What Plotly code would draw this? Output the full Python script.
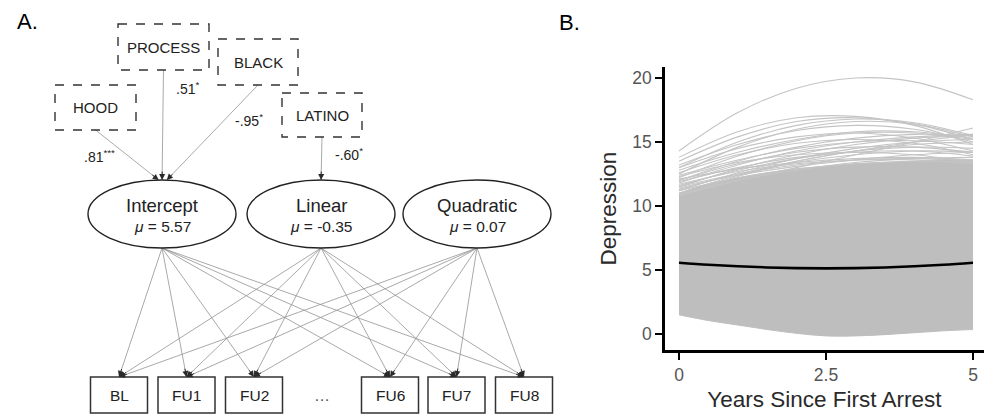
import math
import plotly.graph_objects as go

# ---------------- Panel A data (path diagram) ----------------
covariates = ["PROCESS", "BLACK", "HOOD", "LATINO"]
covariate_targets = ["Intercept", "Intercept", "Intercept", "Linear"]
coefficients = [".51", "-.95", ".81", "-.60"]
significance = ["*", "*", "***", "*"]
growth_factors = ["Intercept", "Linear", "Quadratic"]
factor_means = ["5.57", "-0.35", "0.07"]
waves = ["BL", "FU1", "FU2", "FU6", "FU7", "FU8"]
ellipsis_label = "…"

# ---------------- Panel B data (trajectories) ----------------
years = [0, 0.5, 1, 1.5, 2, 2.5, 3, 3.5, 4, 4.5, 5]
mean_depression = [5.57, 5.41, 5.29, 5.20, 5.15, 5.13, 5.15, 5.20, 5.29, 5.41, 5.57]
band_lower = [1.5, 1.05, 0.7, 0.35, 0.05, -0.15, -0.15, -0.05, 0.1, 0.25, 0.35]
band_upper = [11.0, 11.7, 12.2, 12.6, 12.9, 13.1, 13.3, 13.4, 13.5, 13.6, 13.6]
curve_years = [0, 1, 2, 3, 4, 5]
upper_curves = [
    [14.3, 17.3, 19.2, 20.0, 19.7, 18.3],
    [13.8, 15.8, 16.9, 17.0, 16.3, 14.8],
    [13.5, 15.4, 16.6, 16.9, 16.4, 15.2],
    [13.0, 15.0, 16.3, 16.8, 16.5, 15.5],
    [12.5, 14.6, 16.0, 16.6, 16.4, 15.4],
    [13.2, 14.8, 15.9, 16.3, 16.0, 15.0],
    [12.8, 14.2, 15.2, 15.8, 15.8, 15.3],
    [12.2, 13.9, 15.1, 15.7, 15.7, 15.2],
    [12.0, 13.5, 14.6, 15.3, 15.6, 15.5],
    [11.8, 13.2, 14.3, 15.0, 15.4, 15.6],
    [11.5, 12.9, 14.0, 14.8, 15.3, 15.5],
    [12.4, 13.6, 14.5, 15.0, 15.1, 14.8],
    [11.2, 12.6, 13.7, 14.5, 15.0, 15.2],
    [12.0, 13.3, 14.2, 14.6, 14.6, 14.2],
    [11.6, 12.8, 13.7, 14.3, 14.6, 14.5],
    [10.8, 12.3, 13.5, 14.3, 14.8, 15.0],
    [13.0, 14.5, 15.4, 15.7, 15.3, 14.3],
    [11.0, 12.4, 13.4, 14.0, 14.3, 14.2],
    [12.6, 14.0, 14.9, 15.2, 14.9, 14.0],
    [10.8, 12.0, 13.0, 14.0, 15.0, 16.1],
    [11.3, 12.5, 13.5, 14.3, 15.0, 15.6],
    [11.9, 13.0, 13.8, 14.2, 14.3, 13.9],
    [12.3, 13.4, 14.0, 14.2, 14.0, 13.4],
    [11.2, 12.2, 12.9, 13.3, 13.5, 13.4],
    [11.5, 12.5, 13.2, 13.6, 13.7, 13.5],
    [10.9, 12.0, 12.8, 13.4, 13.7, 13.8],
    [11.7, 12.7, 13.3, 13.6, 13.6, 13.3],
    [12.1, 12.9, 13.4, 13.7, 13.8, 13.6],
    [11.4, 12.4, 13.1, 13.6, 14.0, 14.2],
]
x_ticks = [0, 2.5, 5]
x_tick_labels = ["0", "2.5", "5"]
y_ticks = [0, 5, 10, 15, 20]
y_tick_labels = ["0", "5", "10", "15", "20"]

# ---------------- Diagram layout (pixel units of panel A) ----------------
cov_box = {
    "PROCESS": (118, 24, 209, 70),
    "BLACK": (218, 39, 298, 85),
    "HOOD": (55, 85, 136, 130),
    "LATINO": (282, 93, 362, 137),
}
coef_pos = {
    "PROCESS": (174, 88),
    "BLACK": (233, 120),
    "HOOD": (82, 156),
    "LATINO": (333, 154),
}
factor_cx = {"Intercept": 162, "Linear": 321, "Quadratic": 477}
factor_cy, factor_rx, factor_ry = 214, 74, 34
wave_cx = {"BL": 119, "FU1": 186.5, "FU2": 254, "FU6": 390, "FU7": 456.5, "FU8": 524}
wave_w, wave_top, wave_bot = 57, 377, 413
dots_x = 322

FONT = "Liberation Sans, Arial, Helvetica, sans-serif"
TXT = "#222222"

fig = go.Figure()
shapes = []
annotations = []

# ----- Panel B traces -----
fig.add_trace(go.Scatter(x=years, y=band_lower, mode="lines",
                         line=dict(color="#bebebe", width=1, shape="spline"),
                         hoverinfo="skip", showlegend=False))
fig.add_trace(go.Scatter(x=years, y=band_upper, mode="lines", fill="tonexty",
                         fillcolor="#bebebe",
                         line=dict(color="#bebebe", width=1, shape="spline"),
                         hoverinfo="skip", showlegend=False))
for c in upper_curves:
    fig.add_trace(go.Scatter(x=curve_years, y=c, mode="lines",
                             line=dict(color="#c4c4c4", width=1.1, shape="spline"),
                             hoverinfo="skip", showlegend=False))
fig.add_trace(go.Scatter(x=years, y=mean_depression, mode="lines",
                         line=dict(color="black", width=2.6, shape="spline"),
                         hoverinfo="skip", showlegend=False))

# ----- Panel A: edges -----
edge_x, edge_y = [], []
heads = []


def add_edge(sx, sy, tx, ty):
    edge_x.extend([sx, tx, None])
    edge_y.extend([sy, ty, None])
    d = math.hypot(tx - sx, ty - sy)
    ux, uy = (tx - sx) / d, (ty - sy) / d
    heads.append((tx, ty, tx - ux * 10, ty - uy * 10))


for cov, tgt in zip(covariates, covariate_targets):
    x0, y0, x1, y1 = cov_box[cov]
    add_edge((x0 + x1) / 2, y1, factor_cx[tgt] + ((x0 + x1) / 2 - factor_cx[tgt]) * 0.05,
             factor_cy - factor_ry)

for f in growth_factors:
    for w in waves:
        add_edge(factor_cx[f], factor_cy + factor_ry, wave_cx[w], wave_top)

fig.add_trace(go.Scatter(x=edge_x, y=edge_y, mode="lines", xaxis="x2", yaxis="y2",
                         line=dict(color="#939393", width=0.8),
                         hoverinfo="skip", showlegend=False))

for tx, ty, ax, ay in heads:
    annotations.append(dict(x=tx, y=ty, ax=ax, ay=ay, xref="x2", yref="y2",
                            axref="x2", ayref="y2", text="", showarrow=True,
                            arrowhead=2, arrowsize=1.2, arrowwidth=1,
                            arrowcolor="#2a2a2a", standoff=0))

# covariate boxes (dashed)
for cov in covariates:
    x0, y0, x1, y1 = cov_box[cov]
    shapes.append(dict(type="rect", xref="x2", yref="y2", x0=x0, y0=y0, x1=x1, y1=y1,
                       line=dict(color="#333333", width=1.4, dash="dash")))
    annotations.append(dict(x=(x0 + x1) / 2, y=(y0 + y1) / 2, xref="x2", yref="y2",
                            text=cov, showarrow=False,
                            font=dict(family=FONT, size=15, color=TXT)))

for cov, coef, sig in zip(covariates, coefficients, significance):
    cx, cy = coef_pos[cov]
    annotations.append(dict(x=cx, y=cy, xref="x2", yref="y2", xanchor="left",
                            text=f"{coef}<sup>{sig}</sup>", showarrow=False,
                            font=dict(family=FONT, size=14, color=TXT)))

# growth factor ellipses
for f, m in zip(growth_factors, factor_means):
    cx = factor_cx[f]
    shapes.append(dict(type="circle", xref="x2", yref="y2",
                       x0=cx - factor_rx, x1=cx + factor_rx,
                       y0=factor_cy - factor_ry, y1=factor_cy + factor_ry,
                       fillcolor="white", line=dict(color="#222222", width=1.4)))
    annotations.append(dict(x=cx, y=factor_cy - 9, xref="x2", yref="y2", text=f,
                            showarrow=False, font=dict(family=FONT, size=18.5, color=TXT)))
    annotations.append(dict(x=cx, y=factor_cy + 12, xref="x2", yref="y2",
                            text=f"<i>μ</i> = {m}", showarrow=False,
                            font=dict(family=FONT, size=15.5, color=TXT)))

# wave boxes
for w in waves:
    cx = wave_cx[w]
    shapes.append(dict(type="rect", xref="x2", yref="y2",
                       x0=cx - wave_w / 2, x1=cx + wave_w / 2, y0=wave_top, y1=wave_bot,
                       fillcolor="white", line=dict(color="#333333", width=1.5)))
    annotations.append(dict(x=cx, y=(wave_top + wave_bot) / 2, xref="x2", yref="y2",
                            text=w, showarrow=False,
                            font=dict(family=FONT, size=15.5, color=TXT)))
annotations.append(dict(x=dots_x, y=(wave_top + wave_bot) / 2, xref="x2", yref="y2",
                        text=ellipsis_label, showarrow=False,
                        font=dict(family=FONT, size=16, color="#555555")))

# panel labels
annotations.append(dict(x=15, y=21, xref="x2", yref="y2", xanchor="left", text="A.",
                        showarrow=False, font=dict(family=FONT, size=22, color="black")))
annotations.append(dict(x=557, y=22, xref="x2", yref="y2", xanchor="left", text="B.",
                        showarrow=False, font=dict(family=FONT, size=22, color="black")))

W, H = 984, 416
fig.update_layout(
    width=W, height=H, margin=dict(l=0, r=0, t=0, b=0),
    paper_bgcolor="white", plot_bgcolor="rgba(0,0,0,0)", showlegend=False,
    font=dict(family=FONT),
    shapes=shapes, annotations=annotations,
    xaxis=dict(domain=[665 / W, 1], range=[-0.238, 5.187], anchor="y",
               showgrid=False, zeroline=False, showline=True, linecolor="black",
               linewidth=2.6, ticks="outside", ticklen=7, tickwidth=2, tickcolor="black",
               tickvals=x_ticks, ticktext=x_tick_labels,
               tickfont=dict(family=FONT, size=17.5, color="#555555"),
               title=dict(text="Years Since First Arrest", standoff=8,
                          font=dict(family=FONT, size=22.5, color="#2a2a2a"))),
    yaxis=dict(domain=[1 - 350 / H, 1 - 67 / H], range=[-1.25, 20.86], anchor="x",
               showgrid=False, zeroline=False, showline=True, linecolor="black",
               linewidth=2.6, ticks="outside", ticklen=7, tickwidth=2, tickcolor="black",
               tickvals=y_ticks, ticktext=y_tick_labels,
               tickfont=dict(family=FONT, size=17.5, color="#555555"),
               title=dict(text="Depression", standoff=10,
                          font=dict(family=FONT, size=22.5, color="#2a2a2a"))),
    xaxis2=dict(domain=[0, 1], range=[0, W], anchor="y2", visible=False, fixedrange=True),
    yaxis2=dict(domain=[0, 1], range=[H, 0], anchor="x2", visible=False, fixedrange=True),
)

fig.write_html("out.html", config={"displayModeBar": False},
               post_script="document.body.style.margin='0';")
